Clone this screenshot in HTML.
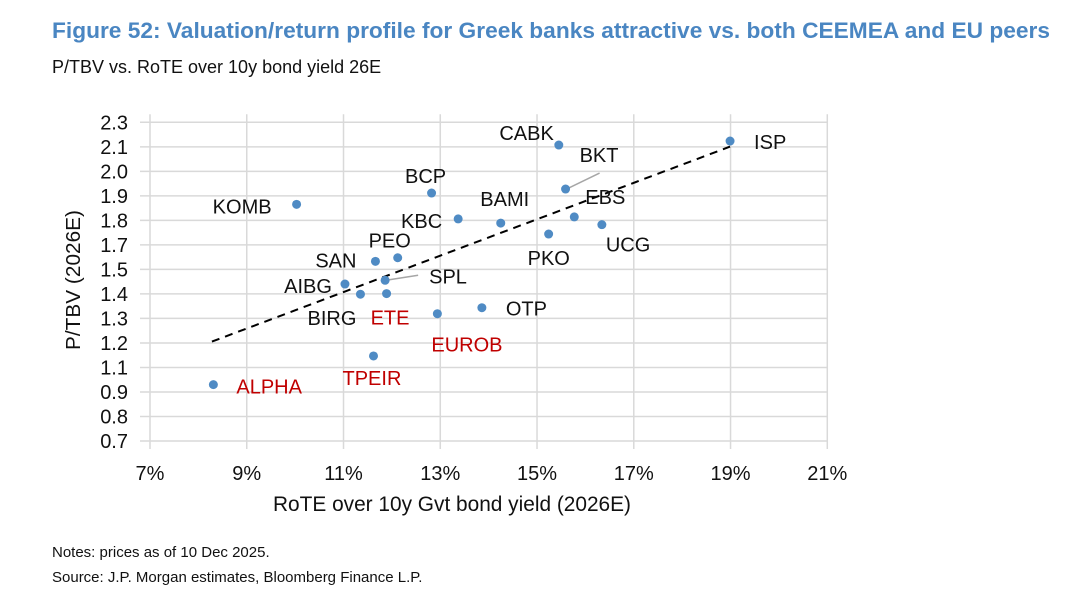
<!DOCTYPE html>
<html><head><meta charset="utf-8"><style>
body{margin:0;background:#fff;width:1068px;height:605px;overflow:hidden;font-family:"Liberation Sans",Arial,sans-serif}
svg{position:absolute;left:0;top:0}
</style></head><body>
<svg id="chart" width="1068" height="605" xmlns="http://www.w3.org/2000/svg">
<text x="52" y="38" font-size="22" font-weight="bold" fill="#4a86c2" textLength="998" lengthAdjust="spacingAndGlyphs">Figure 52: Valuation/return profile for Greek banks attractive vs. both CEEMEA and EU peers</text>
<text x="52" y="73" font-size="18" fill="#111">P/TBV vs. RoTE over 10y bond yield 26E</text>
<g id="grid"></g><g id="axes"></g><g id="trend"></g><g id="pts"></g>
<text transform="translate(80,280) rotate(-90)" text-anchor="middle" font-size="20" fill="#111" textLength="140" lengthAdjust="spacingAndGlyphs">P/TBV (2026E)</text>
<text x="452" y="511" text-anchor="middle" font-size="21" fill="#111" textLength="358" lengthAdjust="spacingAndGlyphs">RoTE over 10y Gvt bond yield (2026E)</text>
<text x="52" y="557" font-size="15" fill="#111">Notes: prices as of 10 Dec 2025.</text>
<text x="52" y="582" font-size="15" fill="#111">Source: J.P. Morgan estimates, Bloomberg Finance L.P.</text>
</svg>
<script>
const names=["KOMB","BCP","KBC","BAMI","SAN","PEO","SPL","AIBG","BIRG","ETE","EUROB","TPEIR","ALPHA","CABK","BKT","EBS","UCG","PKO","OTP","ISP"];
const rote=[10.03,12.82,13.37,14.25,11.66,12.12,11.86,11.03,11.35,11.89,12.94,11.62,8.31,15.45,15.59,15.77,16.34,15.24,13.86,18.99];
const ptbv=[1.888,1.945,1.815,1.794,1.602,1.62,1.507,1.488,1.437,1.44,1.339,1.127,0.983,2.186,1.965,1.825,1.786,1.739,1.369,2.206];
const greek=["ETE","EUROB","TPEIR","ALPHA"];
const xTicks=[7,9,11,13,15,17,19,21];
const yTickLabels=["0.7","0.8","0.9","1.1","1.2","1.3","1.4","1.5","1.7","1.8","1.9","2.0","2.1","2.3"];
const trendX=[8.28,18.99];
const trendY=[1.199,2.178];
// label layout offsets [dx,dy,anchor]
const lab={KOMB:[-25,9,"end"],BCP:[-6,-10,"middle"],KBC:[-16,9,"end"],BAMI:[4,-17,"middle"],SAN:[-19,6,"end"],PEO:[-8,-10,"middle"],SPL:[44,3,"start"],AIBG:[-13,9,"end"],BIRG:[-4,31,"end"],ETE:[-16,31,"start"],EUROB:[-6,38,"start"],TPEIR:[-31,29,"start"],ALPHA:[23,9,"start"],CABK:[-5,-5,"end"],BKT:[14,-27,"start"],EBS:[11,-13,"start"],UCG:[4,27,"start"],PKO:[-21,31,"start"],OTP:[24,8,"start"],ISP:[24,8,"start"]};
const X0=150,X1=827.3,Y0=441,Y1=122.3,xmin=7,xmax=21,ymin=0.7,ymax=2.3;
const sx=v=>X0+(v-xmin)/(xmax-xmin)*(X1-X0);
const sy=v=>Y0-(v-ymin)/(ymax-ymin)*(Y0-Y1);
const NS="http://www.w3.org/2000/svg";
function mk(t,a,p){const e=document.createElementNS(NS,t);for(const k in a)e.setAttribute(k,a[k]);p.appendChild(e);return e;}
const grid=document.getElementById('grid'),axes=document.getElementById('axes');
xTicks.forEach(v=>{
 const l=mk('line',{x1:sx(v),x2:sx(v),y1:Y1-8,y2:Y0+8,stroke:'#d9d9d9','stroke-width':1.5},grid);
 
 
 const t=mk('text',{x:sx(v),y:480,'text-anchor':'middle','font-size':20,fill:'#111'},axes);
 t.textContent=v+'%';
 
 
});
yTickLabels.forEach((s,i)=>{
 const v=ymin+i*(ymax-ymin)/(yTickLabels.length-1);
 const l=mk('line',{x1:X0-10,x2:X1,y1:sy(v),y2:sy(v),stroke:'#d9d9d9','stroke-width':1.5},grid);
 
 
 const t=mk('text',{x:128,y:sy(v)+7,'text-anchor':'end','font-size':20,fill:'#111'},axes);
 t.textContent=s;
 
 
});
const tr=mk('line',{x1:sx(trendX[0]),y1:sy(trendY[0]),x2:sx(trendX[1]),y2:sy(trendY[1]),stroke:'#000','stroke-width':2,'stroke-dasharray':'8,6'},document.getElementById('trend'));


const pts=document.getElementById('pts');
const leaders={SPL:[33,-5],BKT:[34,-16]};
names.forEach((n,i)=>{
 const cx=sx(rote[i]),cy=sy(ptbv[i]);
 if(leaders[n]){const ld=mk('line',{x1:cx+1,y1:cy,x2:cx+leaders[n][0],y2:cy+leaders[n][1],stroke:'#a6a6a6','stroke-width':1.5},pts);
  
  }
 const c=mk('circle',{cx:cx,cy:cy,r:4.5,fill:'#4f8bc4'},pts);
 
 
 const o=lab[n];
 const t=mk('text',{x:cx+o[0],y:cy+o[1],'text-anchor':o[2],'font-size':20,fill:greek.includes(n)?'#c00000':'#111'},pts);
 t.textContent=n;
 
 
});
</script>
</body></html>
